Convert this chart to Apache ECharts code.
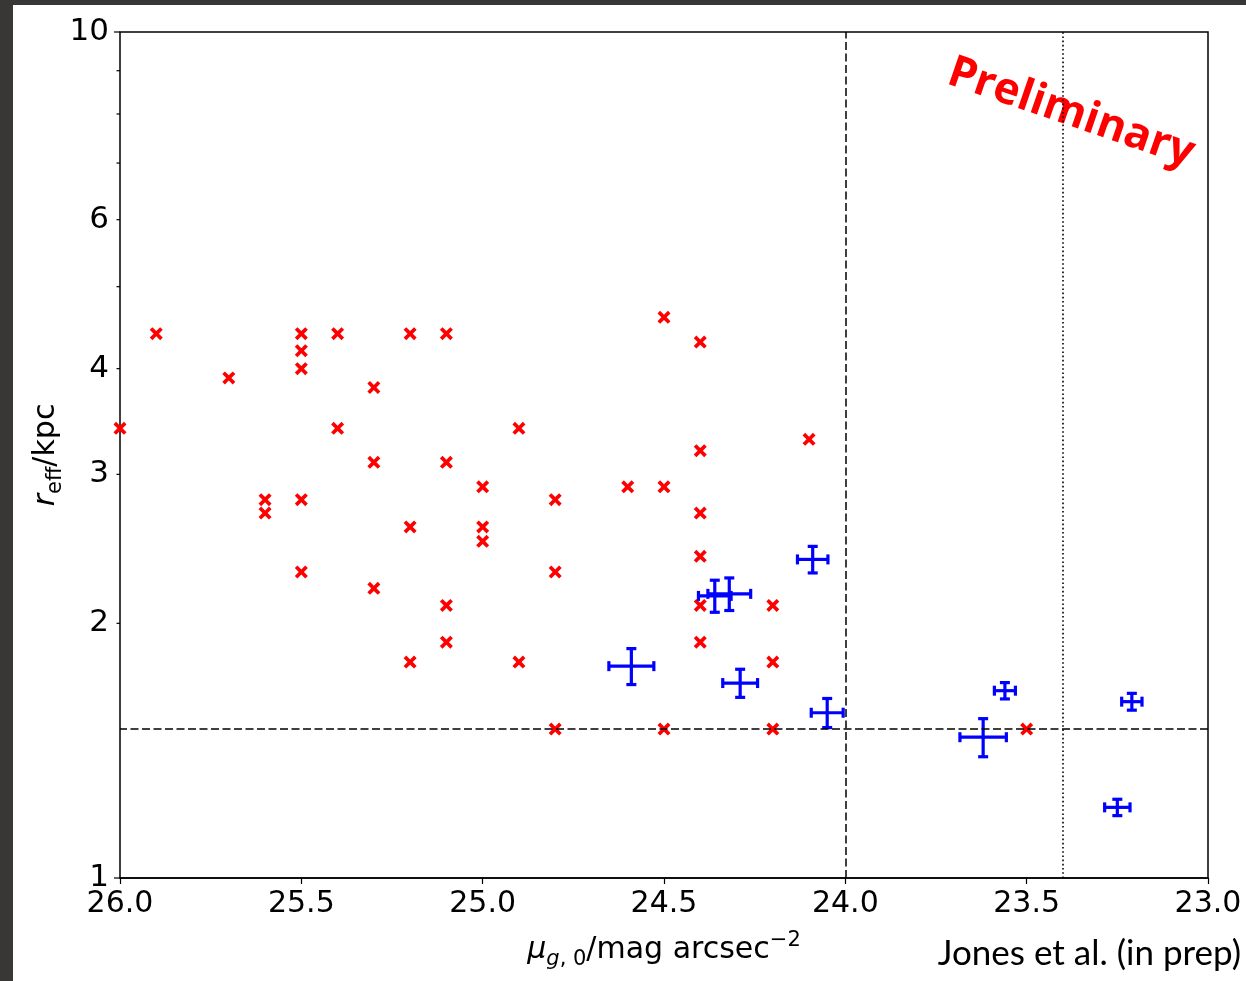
<!DOCTYPE html>
<html>
<head>
<meta charset="utf-8">
<script src="https://cdn.jsdelivr.net/npm/echarts@6/dist/echarts.min.js"></script>
<style>
  html, body { margin: 0; padding: 0; background: #393735; }
  #chart { position: absolute; left: 13px; top: 5px; width: 1233px; height: 976px; background: #fff; }
</style>
</head>
<body>
<div id="chart"></div>
<script>
// axis ranges (x is inverted: bright on the right)
const xMin = 23.0
const xMax = 26.0
const yMin = 1
const yMax = 10

// log axis ticks, labelled ones only at 1,2,3,4,6,10
const yTickValues = [1, 2, 3, 4, 5, 6, 7, 8, 9, 10]
const yTickLabels = ['1', '2', '3', '4', '', '6', '', '', '', '10']
const yMajor = [1, 10]

// red crosses
const redX = [26.0, 25.9, 25.7, 25.6, 25.6, 25.5, 25.5, 25.5, 25.5, 25.5,
  25.4, 25.4, 25.3, 25.3, 25.3, 25.2, 25.2, 25.2, 25.1, 25.1,
  25.1, 25.1, 25.0, 25.0, 25.0, 24.9, 24.9, 24.8, 24.8, 24.8,
  24.6, 24.5, 24.5, 24.5, 24.4, 24.4, 24.4, 24.4, 24.4, 24.4,
  24.2, 24.2, 24.2, 24.1, 23.5]
const redY = [3.4, 4.4, 3.9, 2.8, 2.7, 4.4, 4.2, 4.0, 2.8, 2.3,
  4.4, 3.4, 3.8, 3.1, 2.2, 4.4, 2.6, 1.8, 4.4, 3.1,
  2.1, 1.9, 2.9, 2.6, 2.5, 3.4, 1.8, 2.8, 2.3, 1.5,
  2.9, 4.6, 2.9, 1.5, 4.3, 3.2, 2.7, 2.4, 2.1, 1.9,
  2.1, 1.8, 1.5, 3.3, 1.5]

// blue points with error bars
const blueX = [24.59, 24.36, 24.32, 24.09, 24.29, 24.05, 23.62, 23.56, 23.21, 23.25]
const blueY = [1.78, 2.155, 2.167, 2.38, 1.70, 1.568, 1.467, 1.665, 1.616, 1.212]
const blueXErr = [0.062, 0.045, 0.059, 0.042, 0.048, 0.044, 0.064, 0.029, 0.028, 0.035]
const blueYErr = [0.087, 0.094, 0.096, 0.086, 0.065, 0.062, 0.076, 0.037, 0.037, 0.027]

// reference lines
const refY = 1.5
const refXDashed = 24.0
const refXDotted = 23.4

const chart = echarts.init(document.getElementById('chart'))

const option = {
  animation: false,
  grid: {
    left: 107,
    right: 38,
    top: 27,
    bottom: 103,
    show: true,
    borderColor: '#000',
    borderWidth: 1.5,
    backgroundColor: 'transparent'
  },
  xAxis: {
    type: 'value',
    min: xMin,
    max: xMax,
    interval: 0.5,
    inverse: true,
    name: '{mu|μ}{gi|g}{s0|, 0}{n|/mag arcsec}{sup|−2}',
    nameLocation: 'middle',
    nameGap: 52,
    nameTextStyle: {
      rich: {
        mu: { fontFamily: 'DejaVu Sans', fontStyle: 'italic', fontSize: 30, lineHeight: 40, color: '#000' },
        gi: { fontFamily: 'DejaVu Sans', fontStyle: 'italic', fontSize: 21, lineHeight: 22, verticalAlign: 'bottom', color: '#000' },
        s0: { fontFamily: 'DejaVu Sans', fontSize: 21, lineHeight: 22, verticalAlign: 'bottom', color: '#000' },
        n: { fontFamily: 'DejaVu Sans', fontSize: 30, lineHeight: 40, color: '#000' },
        sup: { fontFamily: 'DejaVu Sans', fontSize: 21, lineHeight: 22, verticalAlign: 'top', color: '#000' }
      }
    },
    axisLine: { show: true, lineStyle: { color: '#000', width: 1.5 } },
    axisTick: { show: true, inside: false, length: 6, lineStyle: { color: '#000', width: 1.2 } },
    axisLabel: {
      color: '#000',
      fontFamily: 'DejaVu Sans',
      fontSize: 30,
      margin: 11,
      formatter: (v) => v.toFixed(1)
    },
    splitLine: { show: false }
  },
  yAxis: {
    type: 'log',
    logBase: 10,
    min: yMin,
    max: yMax,
    name: '{i|r}{s|eff}{n|/kpc}',
    nameLocation: 'middle',
    nameGap: 54,
    nameTextStyle: {
      rich: {
        i: { fontFamily: 'DejaVu Sans', fontStyle: 'italic', fontSize: 30, lineHeight: 40, color: '#000' },
        s: { fontFamily: 'DejaVu Sans', fontSize: 21, lineHeight: 22, verticalAlign: 'bottom', color: '#000' },
        n: { fontFamily: 'DejaVu Sans', fontSize: 30, lineHeight: 40, color: '#000' }
      }
    },
    axisLine: { show: false },
    axisTick: { show: false },
    axisLabel: { show: false },
    splitLine: { show: false },
    minorTick: { show: false }
  },
  graphic: [
    {
      type: 'text',
      x: 1058,
      y: 108,
      rotation: -19 * Math.PI / 180,
      style: {
        text: 'Preliminary',
        fill: '#ff0000',
        font: 'bold 44px "Open Sans"',
        align: 'center',
        verticalAlign: 'middle'
      }
    },
    {
      type: 'text',
      x: 1228,
      y: 949,
      style: {
        text: 'Jones et al. (in prep)',
        fill: '#000',
        font: '35px Lato',
        align: 'right',
        verticalAlign: 'middle'
      }
    }
  ],
  series: [
    {
      // y ticks + labels of the log axis
      type: 'custom',
      silent: true,
      clip: false,
      data: yTickValues.map((v, i) => [xMax, v, i]),
      renderItem: (params, api) => {
        const p = api.coord([api.value(0), api.value(1)])
        const idx = api.value(2)
        const v = yTickValues[idx]
        const len = yMajor.includes(v) ? 6 : 3.5
        const children = [
          {
            type: 'line',
            shape: { x1: p[0] - len, y1: p[1], x2: p[0], y2: p[1] },
            style: { stroke: '#000', lineWidth: 1.2 }
          }
        ]
        if (yTickLabels[idx]) {
          children.push({
            type: 'text',
            x: p[0] - 11,
            y: p[1],
            style: {
              text: yTickLabels[idx],
              fill: '#000',
              font: '31px "DejaVu Sans"',
              align: 'right',
              verticalAlign: 'middle'
            }
          })
        }
        return { type: 'group', children }
      }
    },
    {
      type: 'scatter',
      data: redX.map((x, i) => [x, redY[i]]),
      symbol: 'path://M0,2L2,0L5,3L8,0L10,2L7,5L10,8L8,10L5,7L2,10L0,8L3,5Z',
      symbolSize: 13,
      itemStyle: { color: '#ff0000', opacity: 1 },
      z: 2,
      markLine: {
        silent: true,
        symbol: ['none', 'none'],
        label: { show: false },
        lineStyle: { color: '#000', width: 1.5 },
        data: [
          { yAxis: refY, lineStyle: { type: [8, 3.5], color: '#000', width: 1.5 } },
          { xAxis: refXDashed, lineStyle: { type: [8, 3.5], color: '#000', width: 1.5 } },
          { xAxis: refXDotted, lineStyle: { type: [1.6, 2.6], color: '#000', width: 1.6 } }
        ]
      }
    },
    {
      type: 'custom',
      z: 3,
      data: blueX.map((x, i) => [x, blueY[i], blueXErr[i], blueYErr[i]]),
      encode: { x: 0, y: 1 },
      renderItem: (params, api) => {
        const x = api.value(0)
        const y = api.value(1)
        const xe = api.value(2)
        const ye = api.value(3)
        const l = api.coord([x + xe, y])
        const r = api.coord([x - xe, y])
        const t = api.coord([x, y + ye])
        const b = api.coord([x, y - ye])
        const cap = 5
        const st = { stroke: '#0000ff', lineWidth: 3.2 }
        const line = (x1, y1, x2, y2) => ({ type: 'line', shape: { x1, y1, x2, y2 }, style: st })
        return {
          type: 'group',
          children: [
            line(l[0], l[1], r[0], r[1]),
            line(t[0], t[1], b[0], b[1]),
            line(l[0], l[1] - cap, l[0], l[1] + cap),
            line(r[0], r[1] - cap, r[0], r[1] + cap),
            line(t[0] - cap, t[1], t[0] + cap, t[1]),
            line(b[0] - cap, b[1], b[0] + cap, b[1])
          ]
        }
      }
    }
  ]
}

chart.setOption(option)
</script>
</body>
</html>
